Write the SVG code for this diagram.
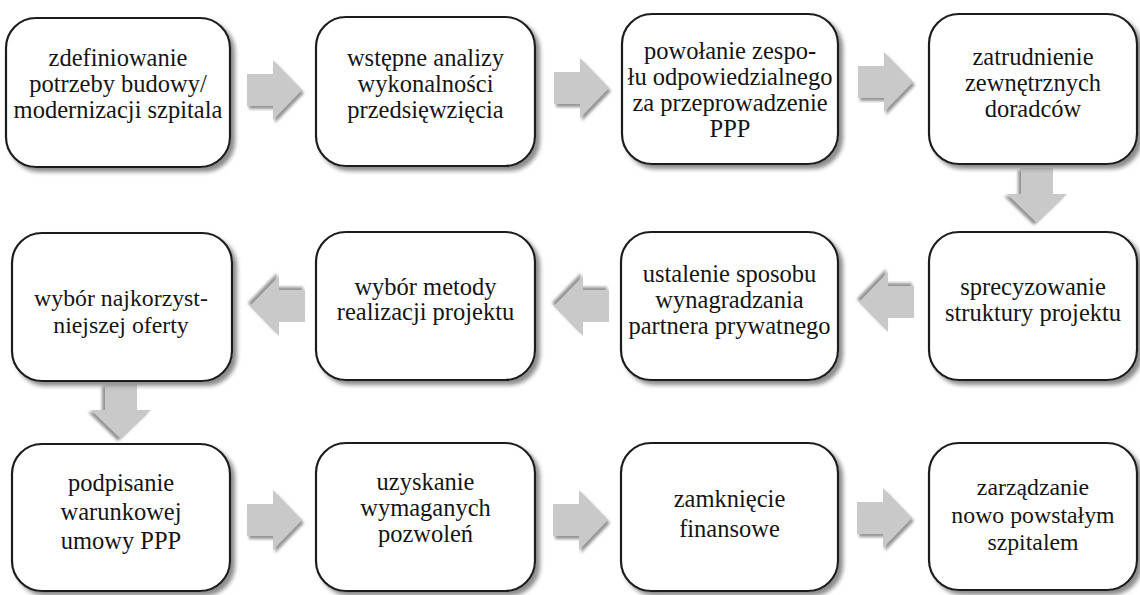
<svg xmlns="http://www.w3.org/2000/svg" width="1140" height="595" viewBox="0 0 1140 595">
<style>
.box{fill:#fff;stroke:#1e1e1e;stroke-width:2.2;filter:url(#sh)}
.t{font-size:24.5px;fill:#151515;text-anchor:middle}
.sm{font-size:23.8px}
.arr{fill:#c9c9c9;filter:url(#ash)}
</style>
<defs>
<filter id="sh" x="-10%" y="-10%" width="125%" height="125%">
<feGaussianBlur in="SourceAlpha" stdDeviation="2.2"/>
<feOffset dx="4" dy="4" result="b"/>
<feFlood flood-color="#8c8c8c"/>
<feComposite in2="b" operator="in"/>
<feMerge><feMergeNode/><feMergeNode in="SourceGraphic"/></feMerge>
</filter>
<filter id="ash" x="-20%" y="-20%" width="150%" height="150%">
<feGaussianBlur in="SourceAlpha" stdDeviation="1.5"/>
<feOffset dx="2" dy="3" result="b"/>
<feFlood flood-color="#939393"/>
<feComposite in2="b" operator="in"/>
<feMerge><feMergeNode/><feMergeNode in="SourceGraphic"/></feMerge>
</filter>
<path id="ar" d="M0,-16 L26,-16 L26,-30 L55,0 L26,30 L26,16 L0,16 Z"/>
</defs>
<rect width="1140" height="595" fill="#fff"/>

<g id="connectors">
<use href="#ar" class="arr" transform="translate(247,90)"/>
<use href="#ar" class="arr" transform="translate(554,88)"/>
<use href="#ar" class="arr" transform="translate(858,82)"/>
<use href="#ar" class="arr" transform="translate(1037,168) rotate(90)"/>
<use href="#ar" class="arr" transform="translate(914,302) rotate(180)"/>
<use href="#ar" class="arr" transform="translate(609,306) rotate(180)"/>
<use href="#ar" class="arr" transform="translate(305,306) rotate(180)"/>
<use href="#ar" class="arr" transform="translate(121,384) rotate(90)"/>
<use href="#ar" class="arr" transform="translate(247,520)"/>
<use href="#ar" class="arr" transform="translate(553,520)"/>
<use href="#ar" class="arr" transform="translate(857,518)"/>
</g>

<g id="nodes" font-family="Liberation Serif, Noto Serif, DejaVu Serif, serif">
<g id="n1"><rect class="box" x="6" y="18" width="224" height="149" rx="30"/>
<text class="t" x="118" y="66">zdefiniowanie</text><text class="t" x="118" y="92">potrzeby budowy/</text><text class="t" x="118" y="118">modernizacji szpitala</text></g>
<g id="n2"><rect class="box" x="316" y="17" width="219" height="149" rx="30"/>
<text class="t" x="425.5" y="66">wstępne analizy</text><text class="t" x="425.5" y="92">wykonalności</text><text class="t" x="425.5" y="118">przedsięwzięcia</text></g>
<g id="n3"><rect class="box" x="622" y="14" width="216" height="150" rx="30"/>
<text class="t" x="730" y="59">powołanie zespo-</text><text class="t" x="730" y="85">łu odpowiedzialnego</text><text class="t" x="730" y="111">za przeprowadzenie</text><text class="t" x="730" y="137">PPP</text></g>
<g id="n4"><rect class="box" x="929" y="14" width="208" height="150" rx="30"/>
<text class="t" x="1033" y="65">zatrudnienie</text><text class="t" x="1033" y="91">zewnętrznych</text><text class="t" x="1033" y="117">doradców</text></g>

<g id="n5"><rect class="box" x="12" y="233" width="220" height="148" rx="30"/>
<text class="t sm" x="121" y="306">wybór najkorzyst-</text><text class="t sm" x="121" y="333">niejszej oferty</text></g>
<g id="n6"><rect class="box" x="316" y="232" width="219" height="148" rx="30"/>
<text class="t" x="425.5" y="295">wybór metody</text><text class="t" x="425.5" y="320">realizacji projektu</text></g>
<g id="n7"><rect class="box" x="621" y="232" width="217" height="148" rx="30"/>
<text class="t" x="729.5" y="282">ustalenie sposobu</text><text class="t" x="729.5" y="308">wynagradzania</text><text class="t" x="729.5" y="334">partnera prywatnego</text></g>
<g id="n8"><rect class="box" x="929" y="232" width="208" height="148" rx="30"/>
<text class="t" x="1033" y="295">sprecyzowanie</text><text class="t" x="1033" y="321">struktury projektu</text></g>

<g id="n9"><rect class="box" x="12" y="444" width="218" height="147" rx="30"/>
<text class="t" x="121" y="491">podpisanie</text><text class="t" x="121" y="520">warunkowej</text><text class="t" x="121" y="549">umowy PPP</text></g>
<g id="n10"><rect class="box" x="316" y="443" width="219" height="148" rx="30"/>
<text class="t" x="425.5" y="490">uzyskanie</text><text class="t" x="425.5" y="516">wymaganych</text><text class="t" x="425.5" y="542">pozwoleń</text></g>
<g id="n11"><rect class="box" x="621" y="443" width="217" height="148" rx="30"/>
<text class="t" x="729.5" y="507">zamknięcie</text><text class="t" x="729.5" y="537">finansowe</text></g>
<g id="n12"><rect class="box" x="929" y="443" width="208" height="147" rx="30"/>
<text class="t sm" x="1033" y="495">zarządzanie</text><text class="t sm" x="1033" y="523">nowo powstałym</text><text class="t sm" x="1033" y="550">szpitalem</text></g>
</g>
</svg>
